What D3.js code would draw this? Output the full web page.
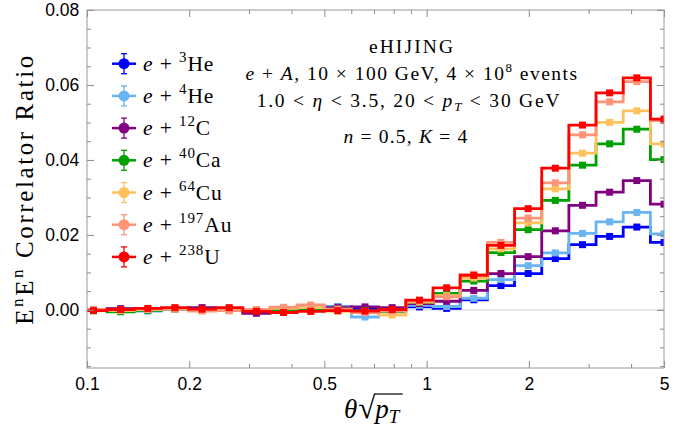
<!DOCTYPE html>
<html>
<head>
<meta charset="utf-8">
<script src="https://cdn.jsdelivr.net/npm/d3@7"></script>
<style>
  html, body { margin: 0; padding: 0; background: #fff; }
  svg { display: block; }
  .tick text { font-family: "Liberation Sans", Arial, sans-serif; font-size: 17.5px; fill: #000; }
  .serif { font-family: "Liberation Serif", "Times New Roman", serif; fill: #000; }
</style>
</head>
<body>
<svg id="chart" width="691" height="429"></svg>
<script>
// Bin centres of θ√pT (log-spaced)
const binCenters = [0.1045, 0.1256, 0.1510, 0.1815, 0.2182, 0.2623, 0.3153, 0.3791,
  0.4557, 0.5478, 0.6585, 0.7916, 0.9527, 1.1453, 1.3768, 1.6553, 1.9905, 2.3930,
  2.8768, 3.4585, 4.1580, 5.0000];

// Nuclei, in drawing order
const nuclei = ["3He", "4He", "12C", "40Ca", "64Cu", "197Au", "238U"];
const massNumbers = ["3", "4", "12", "40", "64", "197", "238"];
const elements = ["He", "He", "C", "Ca", "Cu", "Au", "U"];
const colors = ["#0000ff", "#6ab4f2", "#800080", "#00a000", "#ffc15e", "#ff9477", "#ff0000"];

// EnEn correlator ratio per bin
const ratio3He = [0.0000, 0.0002, 0.0001, 0.0003, 0.0002, 0.0001, -0.0003, 0.0001, 0.0002, 0.0008, 0.0001,
  0.0000, 0.0008, 0.0004, 0.0027, 0.0065, 0.0097, 0.0137, 0.0174, 0.0196, 0.0221, 0.0180];
const ratio4He = [-0.0001, 0.0000, -0.0003, 0.0002, 0.0001, 0.0002, -0.0002, 0.0002, 0.0003, 0.0008, -0.0019,
  -0.0001, 0.0012, 0.0009, 0.0031, 0.0081, 0.0118, 0.0152, 0.0204, 0.0235, 0.0260, 0.0203];
const ratio12C = [-0.0001, 0.0003, 0.0001, 0.0003, 0.0006, 0.0002, -0.0009, -0.0002, 0.0000, 0.0006, 0.0008,
  0.0006, 0.0017, 0.0023, 0.0052, 0.0097, 0.0142, 0.0211, 0.0279, 0.0314, 0.0345, 0.0282];
const ratio40Ca = [-0.0002, -0.0005, -0.0001, 0.0003, 0.0001, -0.0001, -0.0002, 0.0000, 0.0003, 0.0002, -0.0003,
  -0.0005, 0.0021, 0.0044, 0.0077, 0.0153, 0.0214, 0.0292, 0.0386, 0.0443, 0.0482, 0.0401];
const ratio64Cu = [-0.0001, -0.0002, 0.0001, 0.0002, -0.0001, -0.0002, 0.0001, 0.0004, 0.0006, -0.0004, -0.0004,
  -0.0014, 0.0021, 0.0038, 0.0085, 0.0163, 0.0232, 0.0323, 0.0418, 0.0500, 0.0531, 0.0443];
const ratio197Au = [0.0001, 0.0000, 0.0002, 0.0004, -0.0003, -0.0002, 0.0001, 0.0007, 0.0013, 0.0002, -0.0007,
  -0.0003, 0.0024, 0.0035, 0.0095, 0.0180, 0.0245, 0.0339, 0.0467, 0.0555, 0.0609, 0.0505];
const ratio238U = [-0.0002, 0.0001, 0.0004, 0.0006, 0.0002, 0.0006, -0.0004, -0.0007, -0.0004, -0.0002, -0.0003,
  0.0001, 0.0026, 0.0059, 0.0092, 0.0172, 0.0270, 0.0378, 0.0493, 0.0579, 0.0619, 0.0509];
const seriesValues = [ratio3He, ratio4He, ratio12C, ratio40Ca, ratio64Cu, ratio197Au, ratio238U];

// Axis ticks
const xMajorTicks = [0.1, 0.2, 0.5, 1, 2, 5];
const xMinorTicks = [0.3, 0.4, 0.6, 0.7, 0.8, 0.9, 3, 4];
const yMajorTicks = [0.00, 0.02, 0.04, 0.06, 0.08];
const yMinorTicks = [-0.015, -0.01, -0.005, 0.005, 0.01, 0.015, 0.025, 0.03, 0.035, 0.045, 0.05, 0.055, 0.065, 0.07, 0.075];

const svg = d3.select("#chart");
const L = 87, R = 664, T = 10, B = 368;
const x = d3.scaleLog().domain([0.1, 5]).range([L, R]);
const y = d3.scaleLinear().domain([-0.0155, 0.08]).range([B, T]);

svg.append("defs").append("clipPath").attr("id", "plotClip")
  .append("rect").attr("x", L).attr("y", T).attr("width", R - L).attr("height", B - T);

// zero reference line
svg.append("line").attr("x1", L).attr("x2", R).attr("y1", y(0)).attr("y2", y(0))
  .attr("stroke", "#cfcfcf").attr("stroke-width", 1);

// bin edges from neighbouring centres (geometric means)
const edges = [];
for (let i = 0; i < binCenters.length; i++) {
  if (i === 0) edges.push(binCenters[0] / Math.sqrt(binCenters[1] / binCenters[0]));
  else edges.push(Math.sqrt(binCenters[i - 1] * binCenters[i]));
}
const n = binCenters.length;
edges.push(binCenters[n - 1] * Math.sqrt(binCenters[n - 1] / binCenters[n - 2]));

const plot = svg.append("g").attr("clip-path", "url(#plotClip)");
const stepLine = d3.line().x(d => x(d[0])).y(d => y(d[1])).curve(d3.curveStepAfter);

seriesValues.forEach((vals, si) => {
  const pts = vals.map((v, i) => [edges[i], v]);
  pts.push([edges[n], vals[n - 1]]);
  const g = plot.append("g");
  g.append("path").attr("d", stepLine(pts)).attr("fill", "none")
    .attr("stroke", colors[si]).attr("stroke-width", 2.8).attr("stroke-linejoin", "miter");
  g.selectAll("rect").data(vals).join("rect")
    .attr("x", (d, i) => x(binCenters[i]) - 3.5).attr("y", d => y(d) - 3.5)
    .attr("width", 7).attr("height", 7).attr("fill", colors[si]);
});

// frame and ticks
const tickColor = "#8a8a8a";
function styleAxis(g) {
  g.select(".domain").remove();
  g.selectAll(".tick line").attr("stroke", tickColor);
}
svg.append("g").attr("transform", `translate(${L},0)`)
  .call(d3.axisLeft(y).tickValues(yMajorTicks).tickSize(-7).tickPadding(6).tickFormat(d3.format(".2f")))
  .call(styleAxis).selectAll("text").attr("dx", "-0.1em");
svg.append("g").attr("transform", `translate(${L},0)`)
  .call(d3.axisLeft(y).tickValues(yMinorTicks).tickSize(-4).tickFormat(""))
  .call(styleAxis);
svg.append("g").attr("transform", `translate(${R},0)`)
  .call(d3.axisRight(y).tickValues(yMajorTicks).tickSize(-7).tickFormat(""))
  .call(styleAxis);
svg.append("g").attr("transform", `translate(${R},0)`)
  .call(d3.axisRight(y).tickValues(yMinorTicks).tickSize(-4).tickFormat(""))
  .call(styleAxis);
svg.append("g").attr("transform", `translate(0,${B})`)
  .call(d3.axisBottom(x).tickValues(xMajorTicks).tickSize(-7).tickPadding(10).tickFormat(d3.format("")))
  .call(styleAxis);
svg.append("g").attr("transform", `translate(0,${B})`)
  .call(d3.axisBottom(x).tickValues(xMinorTicks).tickSize(-4).tickFormat(""))
  .call(styleAxis);
svg.append("g").attr("transform", `translate(0,${T})`)
  .call(d3.axisTop(x).tickValues(xMajorTicks).tickSize(-7).tickFormat(""))
  .call(styleAxis);
svg.append("g").attr("transform", `translate(0,${T})`)
  .call(d3.axisTop(x).tickValues(xMinorTicks).tickSize(-4).tickFormat(""))
  .call(styleAxis);
svg.append("rect").attr("x", L).attr("y", T).attr("width", R - L).attr("height", B - T)
  .attr("fill", "none").attr("stroke", "#9a9a9a").attr("stroke-width", 1);

// y-axis title
const yt = svg.append("text").attr("class", "serif")
  .attr("transform", `translate(33,${(T + B) / 2}) rotate(-90)`)
  .attr("text-anchor", "middle").attr("font-size", 25).attr("letter-spacing", 2.6);
yt.append("tspan").text("E");
yt.append("tspan").attr("font-size", 17).attr("dy", -10).text("n");
yt.append("tspan").attr("dy", 10).text("E");
yt.append("tspan").attr("font-size", 17).attr("dy", -10).text("n");
yt.append("tspan").attr("dy", 10).text(" Correlator Ratio");

// x-axis title: θ √(pT)
const xt = svg.append("text").attr("class", "serif").attr("x", 344).attr("y", 418)
  .attr("font-size", 27);
xt.append("tspan").attr("font-style", "italic").text("θ");
xt.append("tspan").attr("font-size", 31).attr("dx", 1).text("√");
xt.append("tspan").attr("font-style", "italic").text("p");
xt.append("tspan").attr("font-style", "italic").attr("font-size", 19).attr("dy", 5).text("T");
{
  const bb = xt.node().getBBox();
  const sq = xt.node().getExtentOfChar(1);
  const lineY = sq.y + 4;
  svg.append("line").attr("x1", sq.x + sq.width - 1).attr("x2", bb.x + bb.width + 2)
    .attr("y1", lineY).attr("y2", lineY).attr("stroke", "#000").attr("stroke-width", 1.2);
}

// annotation block
const cx = 412;
const ann = svg.append("g").attr("class", "serif").attr("font-size", 19.5).attr("text-anchor", "middle");
ann.append("text").attr("x", cx).attr("y", 53).attr("letter-spacing", 2.1).text("eHIJING");
{
  const t = ann.append("text").attr("x", cx).attr("y", 80).attr("letter-spacing", 1.5);
  t.append("tspan").attr("font-style", "italic").text("e");
  t.append("tspan").text(" + ");
  t.append("tspan").attr("font-style", "italic").text("A");
  t.append("tspan").text(",  10 × 100 GeV,  4 × 10");
  t.append("tspan").attr("font-size", 13).attr("dy", -8).text("8");
  t.append("tspan").attr("dy", 8).text(" events");
}
{
  const t = ann.append("text").attr("x", cx - 3).attr("y", 107).attr("letter-spacing", 1.8);
  t.append("tspan").text("1.0 < ");
  t.append("tspan").attr("font-style", "italic").text("η");
  t.append("tspan").text(" < 3.5,  20 < ");
  t.append("tspan").attr("font-style", "italic").text("p");
  t.append("tspan").attr("font-style", "italic").attr("font-size", 13).attr("dy", 4).text("T");
  t.append("tspan").attr("dy", -4).text(" < 30 GeV");
}
{
  const t = ann.append("text").attr("x", cx - 6).attr("y", 143).attr("letter-spacing", 1.2);
  t.append("tspan").attr("font-style", "italic").text("n");
  t.append("tspan").text(" = 0.5,  ");
  t.append("tspan").attr("font-style", "italic").text("K");
  t.append("tspan").text(" = 4");
}

// legend
const legend = svg.append("g");
nuclei.forEach((name, i) => {
  const ly = 63.7 + i * 32.2;
  const g = legend.append("g").attr("transform", `translate(0,${ly})`);
  const c = colors[i];
  g.append("line").attr("x1", 112).attr("x2", 136).attr("y1", 0).attr("y2", 0)
    .attr("stroke", c).attr("stroke-width", 2.5);
  g.append("line").attr("x1", 124).attr("x2", 124).attr("y1", -10).attr("y2", 10)
    .attr("stroke", c).attr("stroke-width", 1.3);
  g.append("line").attr("x1", 121).attr("x2", 127).attr("y1", -10).attr("y2", -10)
    .attr("stroke", c).attr("stroke-width", 1.3);
  g.append("line").attr("x1", 121).attr("x2", 127).attr("y1", 10).attr("y2", 10)
    .attr("stroke", c).attr("stroke-width", 1.3);
  g.append("circle").attr("cx", 124).attr("cy", 0).attr("r", 5.5).attr("fill", c);
  const t = g.append("text").attr("class", "serif").attr("x", 143).attr("y", 7)
    .attr("font-size", 21.5).attr("letter-spacing", 0.9);
  t.append("tspan").attr("font-style", "italic").text("e");
  t.append("tspan").text(" + ");
  t.append("tspan").attr("font-size", 15).attr("dy", -9).text(massNumbers[i]);
  t.append("tspan").attr("dy", 9).text(elements[i]);
});
</script>
</body>
</html>
